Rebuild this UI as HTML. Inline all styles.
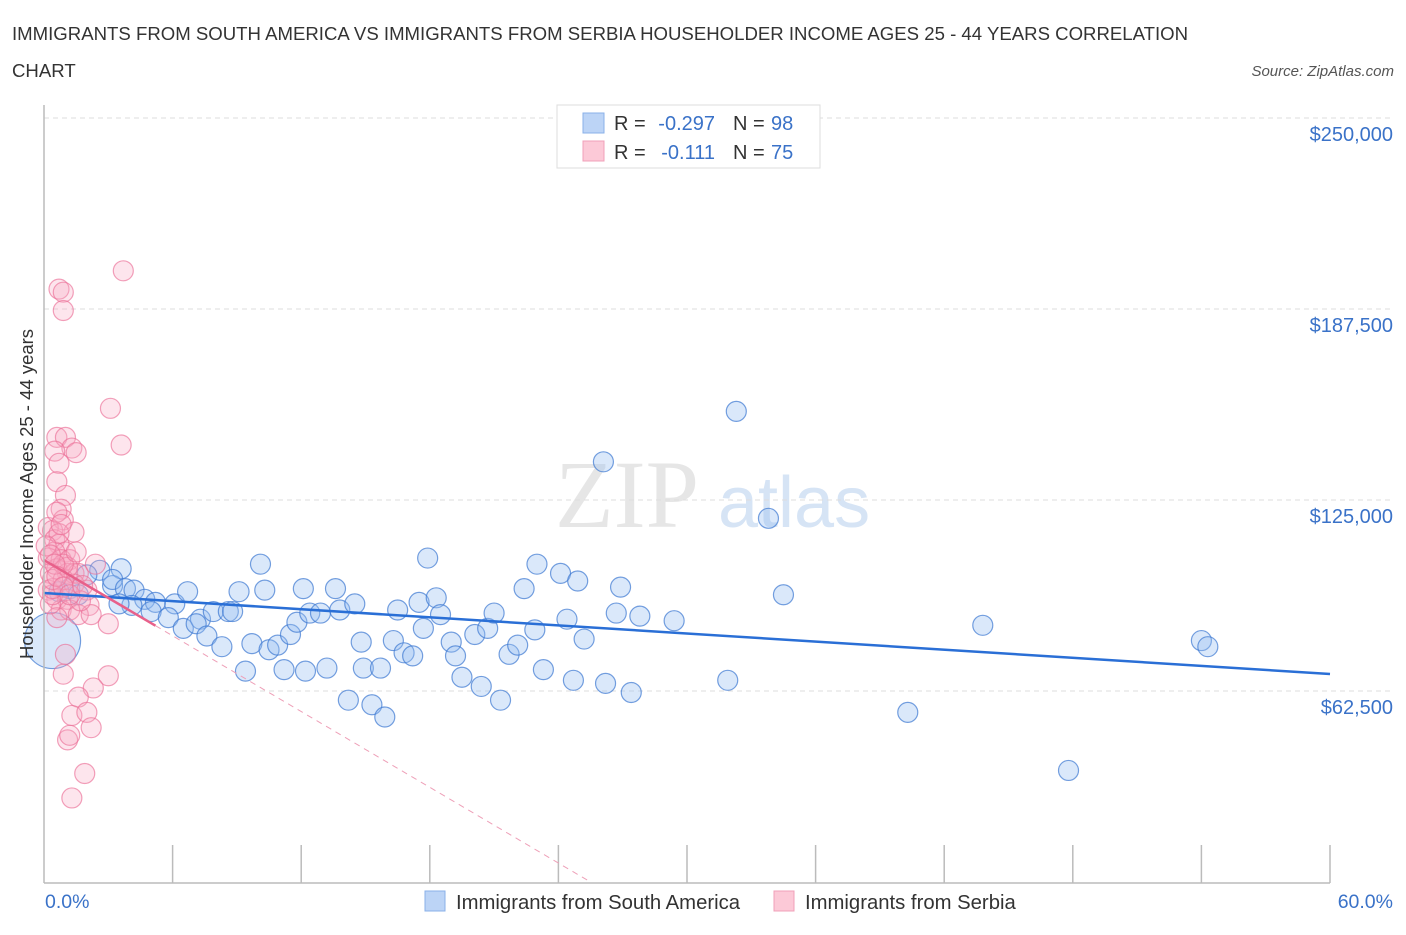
<!DOCTYPE html>
<html><head><meta charset="utf-8"><style>
body{margin:0;background:#fff;font-family:"Liberation Sans",sans-serif;}
</style></head><body>
<svg id="c" width="1406" height="930" xmlns="http://www.w3.org/2000/svg">
<text x="12" y="40" font-size="18.6" fill="#333">IMMIGRANTS FROM SOUTH AMERICA VS IMMIGRANTS FROM SERBIA HOUSEHOLDER INCOME AGES 25 - 44 YEARS CORRELATION</text>
<text x="12" y="77" font-size="18.6" fill="#333">CHART</text>
<text x="1394" y="76" font-size="15" fill="#555" font-style="italic" text-anchor="end">Source: ZipAtlas.com</text>
<text x="555" y="527" font-size="96" fill="#e6e6e6" font-family="Liberation Serif,serif">ZIP</text>
<text x="718" y="527" font-size="72" fill="#d6e4f5">atlas</text>
<g id="grid"></g>
<g id="pts"></g>
<g id="lines"></g>
<line x1="44" y1="105" x2="44" y2="883" stroke="#bbb" stroke-width="1.5"/>
<line x1="44" y1="883" x2="1330" y2="883" stroke="#bbb" stroke-width="1.5"/>
<text x="45" y="908" font-size="19.5" fill="#3a72c8">0.0%</text>
<text x="1393" y="908" font-size="19.5" fill="#3a72c8" text-anchor="end">60.0%</text>
<text transform="translate(33,494) rotate(-90)" font-size="18.5" fill="#333" text-anchor="middle">Householder Income Ages 25 - 44 years</text>
<g>
<rect x="557" y="105" width="263" height="63" fill="#fff" stroke="#ddd"/>
<rect x="583" y="113" width="21" height="20" fill="#bcd4f6" stroke="#8ab0e8"/>
<rect x="583" y="141" width="21" height="20" fill="#fcc9d7" stroke="#f0a0b8"/>
<text x="614" y="130" font-size="20" fill="#333">R =</text>
<text x="715" y="130" font-size="20" fill="#3a72c8" text-anchor="end">-0.297</text>
<text x="733" y="130" font-size="20" fill="#333">N =</text>
<text x="771" y="130" font-size="20" fill="#3a72c8">98</text>
<text x="614" y="159" font-size="20" fill="#333">R =</text>
<text x="715" y="159" font-size="20" fill="#3a72c8" text-anchor="end">-0.111</text>
<text x="733" y="159" font-size="20" fill="#333">N =</text>
<text x="771" y="159" font-size="20" fill="#3a72c8">75</text>
</g>
<g>
<rect x="425" y="891" width="20" height="20" fill="#bcd4f6" stroke="#8ab0e8"/>
<text x="456" y="909" font-size="20.3" fill="#333">Immigrants from South America</text>
<rect x="774" y="891" width="20" height="20" fill="#fcc9d7" stroke="#f0a0b8"/>
<text x="805" y="909" font-size="20.3" fill="#333">Immigrants from Serbia</text>
</g>
</svg>
<script>
const yTicks=[62500,125000,187500,250000];
const yTickLabels=["$62,500","$125,000","$187,500","$250,000"];
const xTicks=[0,6,12,18,24,30,36,42,48,54,60];
const blueX=[2.6,3.6,2.0,3.2,1.2,0.7,1.6,3.2,3.8,4.2,4.7,5.2,4.1,3.5,6.1,6.7,5.0,5.8,6.5,7.3,7.9,7.1,8.6,8.8,9.1,10.1,10.3,7.6,8.3,9.4,9.7,10.5,10.9,11.2,11.5,11.8,12.1,12.2,12.4,12.9,13.2,13.6,13.8,14.5,14.2,14.8,14.9,15.3,15.7,15.9,16.3,16.5,16.8,17.2,17.5,17.7,17.9,18.3,18.5,19.0,19.2,19.5,20.1,20.4,20.7,21.0,21.3,21.7,22.1,22.4,22.9,23.0,23.3,24.1,24.4,24.7,24.9,25.2,26.1,26.2,26.7,26.9,27.4,27.8,29.4,31.9,32.3,33.8,34.5,40.3,43.8,47.8,54.0,54.3,0.4];
const blueY=[102000,102500,100500,97000,96000,95000,94000,99000,96000,95500,92500,91500,90500,91000,91000,95000,88500,86500,83000,86000,88500,84500,88500,88500,95000,104000,95500,80500,77000,69000,78000,76000,77500,69500,81000,85000,96000,69000,88000,88000,70000,96000,89000,91000,59500,78500,70000,58000,70000,54000,79000,89000,75000,74000,91500,83000,106000,93000,87500,78500,74000,67000,81000,64000,83000,88000,59500,74500,77500,96000,82500,104000,69500,101000,86000,66000,98500,79500,137500,65000,88000,96500,62000,87000,85500,66000,154000,119000,94000,55500,84000,36500,79000,77000,79000];
const blueR=blueX.map((x,i)=>i===blueX.length-1?28:10);
const pinkX=[3.7,0.7,0.9,0.9,3.1,3.6,0.6,1.0,1.3,1.5,0.5,0.7,0.6,1.0,0.8,0.9,1.4,0.2,0.4,0.5,0.7,1.0,0.5,0.2,0.8,1.2,0.6,1.1,1.4,1.6,0.3,0.9,1.4,0.2,2.0,0.6,1.1,2.1,0.8,1.2,0.6,1.6,2.2,3.0,1.0,0.9,3.0,2.3,1.6,1.3,2.0,2.2,1.1,1.2,1.9,1.3,0.3,0.4,0.7,1.1,0.1,0.4,0.6,0.8,0.4,0.9,1.7,0.3,0.5,1.5,0.6,0.9,1.2,2.4,1.8];
const pinkY=[200000,194000,193000,187000,155000,143000,145500,145500,142000,140500,141000,137000,131000,126500,122000,118500,114500,116000,115000,112000,110500,108000,108000,106000,105500,105500,102500,101000,101000,101000,101000,99000,97500,95500,95500,92500,92500,90500,89000,89000,86500,87500,87500,84500,74500,68000,67500,63500,60500,54500,55500,50500,46500,48000,35500,27500,91000,94000,114000,103000,110000,96000,121000,117000,99000,104000,92000,107000,104000,108000,100000,96500,94000,104000,97000];
const pinkR=pinkX.map(()=>10);
// trend lines: [intercept at 0%, slope per %]
const blueTrend=[94560,-441.7];
const pinkTrend=[105360,-4132];
const pinkSolidEnd=5.2;
const X0=44,X1=1330,Y0=882;
function sx(p){return X0+(X1-X0)*p/60;}
function sy(v){return Y0-v/62500*191;}
const NS="http://www.w3.org/2000/svg";
const grid=document.getElementById('grid');
yTicks.forEach((t,i)=>{
 const l=document.createElementNS(NS,'line');
 l.setAttribute('x1',44);l.setAttribute('x2',1392);l.setAttribute('y1',sy(t));l.setAttribute('y2',sy(t));
 l.setAttribute('stroke','#ddd');l.setAttribute('stroke-dasharray','5,4');
 
 
 grid.appendChild(l);
 const tx=document.createElementNS(NS,'text');
 tx.setAttribute('x',1393);tx.setAttribute('y',sy(t)+23);tx.setAttribute('text-anchor','end');
 tx.setAttribute('font-size','20');tx.setAttribute('fill','#3a72c8');tx.textContent=yTickLabels[i];
 
 
 grid.appendChild(tx);
});
xTicks.forEach(t=>{
 const l=document.createElementNS(NS,'line');
 l.setAttribute('x1',sx(t));l.setAttribute('x2',sx(t));l.setAttribute('y1',t===0?883:845);l.setAttribute('y2',883);
 l.setAttribute('stroke','#bbb');l.setAttribute('stroke-width','1.5');
 
 
 grid.appendChild(l);
});
const pts=document.getElementById('pts');
function drawPts(xs,ys,rs,fill,stroke,name){
 xs.forEach((x,i)=>{
  const c=document.createElementNS(NS,'circle');
  c.setAttribute('cx',sx(x));c.setAttribute('cy',sy(ys[i]));c.setAttribute('r',rs[i]);
  c.setAttribute('fill',fill);c.setAttribute('stroke',stroke);c.setAttribute('stroke-width','1.2');
  
  
  pts.appendChild(c);
 });
}
drawPts(blueX,blueY,blueR,'rgba(150,190,240,0.35)','rgba(60,120,210,0.7)','south-america-point');
drawPts(pinkX,pinkY,pinkR,'rgba(248,170,195,0.3)','rgba(235,110,150,0.65)','serbia-point');
const lines=document.getElementById('lines');
function ln(x1,y1,x2,y2,col,w,dash,name){const l=document.createElementNS(NS,'line');l.setAttribute('x1',x1);l.setAttribute('y1',y1);l.setAttribute('x2',x2);l.setAttribute('y2',y2);l.setAttribute('stroke',col);l.setAttribute('stroke-width',w);if(dash)l.setAttribute('stroke-dasharray',dash);
 
 
 lines.appendChild(l);}
const [ba,bb]=blueTrend;
ln(sx(0),sy(ba),sx(60),sy(ba+bb*60),'#2a6fd6',2.5,null,'south-america-trend-line');
const [pa,pb]=pinkTrend;
const xEnd=-pa/pb;
ln(sx(0),sy(pa),sx(pinkSolidEnd),sy(pa+pb*pinkSolidEnd),'#e8608a',2.5,null,'serbia-trend-line');
ln(sx(pinkSolidEnd),sy(pa+pb*pinkSolidEnd),sx(xEnd),sy(0),'#eea0b8',1,'6,5','serbia-trend-extension');
</script>
</body></html>
